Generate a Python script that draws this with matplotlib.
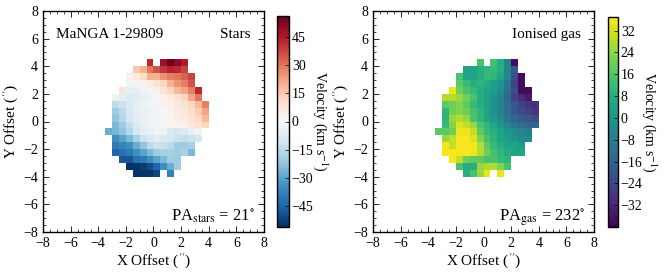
import matplotlib
matplotlib.use("Agg")
import matplotlib.pyplot as plt
import numpy as np

plt.rcParams['font.family'] = ['Liberation Serif', 'DejaVu Serif']
plt.rcParams['mathtext.fontset'] = 'stix'
plt.rcParams['font.size'] = 10

N = np.nan

# spaxel grid edges (arcsec), 0.5" spaxels
x_edges = np.arange(-3.5, 4.01, 0.5)
y_edges = np.arange(4.5, -4.01, -0.5)   # top row first

# stellar velocity (km/s), rows from top (y=4.5) down, cols from x=-3.5
stars_vel = [
    [N, N, N, N, N, N, 42, N, 48, 55, 50, 45, N, N, N],
    [N, N, N, N, 15, 20, 30, 35, 40, 43, 42, 38, N, N, N],
    [N, N, N, 2, 5, 10, 20, 20, 25, 28, 30, 33, 38, N, N],
    [N, N, N, -2, -2, 2, 5, 8, 12, 20, 25, 28, 35, N, N],
    [N, N, 8, -5, -6, -3, -1, 3, 8, 12, 18, 22, 28, 42, N],
    [N, -3, -6, -8, -7, -5, -3, 0, 3, 5, 8, 12, 22, 30, N],
    [N, -15, -12, -8, -6, -3, -2, -1, 2, 4, 6, 8, 12, 18, 28],
    [N, -20, -15, -9, -6, -4, -3, -2, 0, 3, 5, 6, 10, 14, 22],
    [N, -22, -16, -10, -6, -4, -3, -2, 0, 2, 4, 5, 8, 12, 18],
    [N, -25, -20, -14, -8, -5, -3, -2, 0, 1, 2, 3, 6, 8, 12],
    [-28, -26, -22, -16, -10, -6, -4, -2, -3, -8, -10, -8, -4, -2, N],
    [N, -35, -30, -25, -18, -12, -8, -6, -8, -10, -12, -14, -12, -10, N],
    [N, -40, -38, -35, -28, -22, -15, -12, -13, -15, -20, -20, -18, N, N],
    [N, -45, -42, -40, -35, -30, -25, -20, -18, -18, -20, -18, -25, N, N],
    [N, N, -48, -48, -42, -40, -35, -30, -25, -20, -20, N, N, N, N],
    [N, N, N, -55, -55, -53, -50, -45, -35, -28, -20, N, N, N, N],
    [N, N, N, N, -55, -55, -55, -52, N, -38, N, N, N, N, N],
]

# ionised gas velocity (km/s)
gas_vel = [
    [N, N, N, N, N, N, 15, N, 14, 8, -5, -38, N, N, N],
    [N, N, N, N, 5, 5, 8, 10, 12, 8, -5, -20, N, N, N],
    [N, N, N, 15, 5, 5, 8, 12, 10, 5, -5, -22, -38, N, N],
    [N, N, N, 18, 12, 8, 10, 8, 3, 0, -10, -25, -38, N, N],
    [N, N, 35, 20, 15, 12, 8, 5, 2, -3, -12, -22, -38, -38, N],
    [N, 28, 28, 25, 20, 15, 8, 5, 0, -5, -15, -25, -30, -35, N],
    [N, 18, 20, 22, 18, 12, 8, 3, 0, -5, -12, -20, -25, -28, -30],
    [N, 10, 20, 22, 20, 15, 10, 5, 0, -5, -12, -20, -22, -25, -28],
    [N, 10, 25, 28, 25, 15, 10, 5, 2, -3, -10, -15, -18, -20, -22],
    [N, 12, 22, 33, 30, 25, 15, 10, 5, 0, -5, -10, -12, -15, -15],
    [18, 18, 20, 35, 35, 30, 18, 12, 8, 5, 0, -3, -5, -8, N],
    [N, 25, 30, 36, 36, 33, 22, 15, 10, 5, 3, 0, -3, -3, N],
    [N, 36, 30, 36, 36, 36, 28, 18, 12, 8, 5, 5, 2, N, N],
    [N, 36, 36, 36, 36, 35, 28, 20, 15, 10, 8, 5, 5, N, N],
    [N, N, 36, 30, 20, 18, 18, 15, 15, 12, 10, N, N, N, N],
    [N, N, N, 15, 8, 8, 25, 27, 28, 22, 15, N, N, N, N],
    [N, N, N, N, 8, 15, 25, 35, N, 34, N, N, N, N, N],
]

stars_ticks = [-45, -30, -15, 0, 15, 30, 45]
gas_ticks = [-32, -24, -16, -8, 0, 8, 16, 24, 32]

W, H = 664, 273
fig = plt.figure(figsize=(W / 100, H / 100), dpi=100)

def fr(x0, y0, w, h):
    return [x0 / W, 1 - (y0 + h) / H, w / W, h / H]

panels = [
    dict(data=stars_vel, cmap='RdBu_r', vmin=-56, vmax=56, ticks=stars_ticks,
         ax=fr(43, 11, 221, 221), cax=fr(277, 16, 12, 211),
         tl='MaNGA 1-29809', tr='Stars', br=r'PA$_{\rm stars}$ = 21$^{\circ}$'),
    dict(data=gas_vel, cmap='viridis', vmin=-40, vmax=37, ticks=gas_ticks,
         ax=fr(373, 11, 221, 221), cax=fr(608, 17, 10, 210),
         tl=None, tr='Ionised gas', br=r'PA$_{\rm gas}$ = 232$^{\circ}$'),
]

for p in panels:
    ax = fig.add_axes(p['ax'])
    arr = np.ma.masked_invalid(np.array(p['data'], dtype=float))
    m = ax.pcolormesh(x_edges, y_edges, arr, cmap=p['cmap'],
                      vmin=p['vmin'], vmax=p['vmax'])
    ax.set_xlim(-8, 8)
    ax.set_ylim(-8, 8)
    ax.set_xticks(np.arange(-8, 9, 2))
    ax.set_yticks(np.arange(-8, 9, 2))
    ax.set_xticks(np.arange(-8, 8.1, 0.5), minor=True)
    ax.set_yticks(np.arange(-8, 8.1, 0.5), minor=True)
    ax.tick_params(which='both', direction='in', top=True, right=True)
    ax.tick_params(which='major', length=4, width=0.6)
    ax.tick_params(which='minor', length=2, width=0.5)
    for s in ax.spines.values():
        s.set_linewidth(1.0)
    ax.set_xlabel("X Offset ($''$)", fontsize=11, labelpad=1)
    ax.set_ylabel("Y Offset ($''$)", fontsize=11, labelpad=2)
    if p['tl']:
        ax.text(0.06, 0.88, p['tl'], transform=ax.transAxes, fontsize=11)
    ax.text(0.94, 0.88, p['tr'], transform=ax.transAxes, fontsize=11, ha='right')
    ax.text(0.96, 0.05, p['br'], transform=ax.transAxes, fontsize=12, ha='right')

    cax = fig.add_axes(p['cax'])
    cb = fig.colorbar(m, cax=cax, ticks=p['ticks'])
    cb.ax.tick_params(direction='in', length=3, width=0.5, labelsize=10, pad=2)
    cb.outline.set_linewidth(1.0)
    cb.set_label(r'Velocity (km s$^{-1}$)', rotation=270, labelpad=12, fontsize=10)

fig.savefig('out.png', dpi=100)
